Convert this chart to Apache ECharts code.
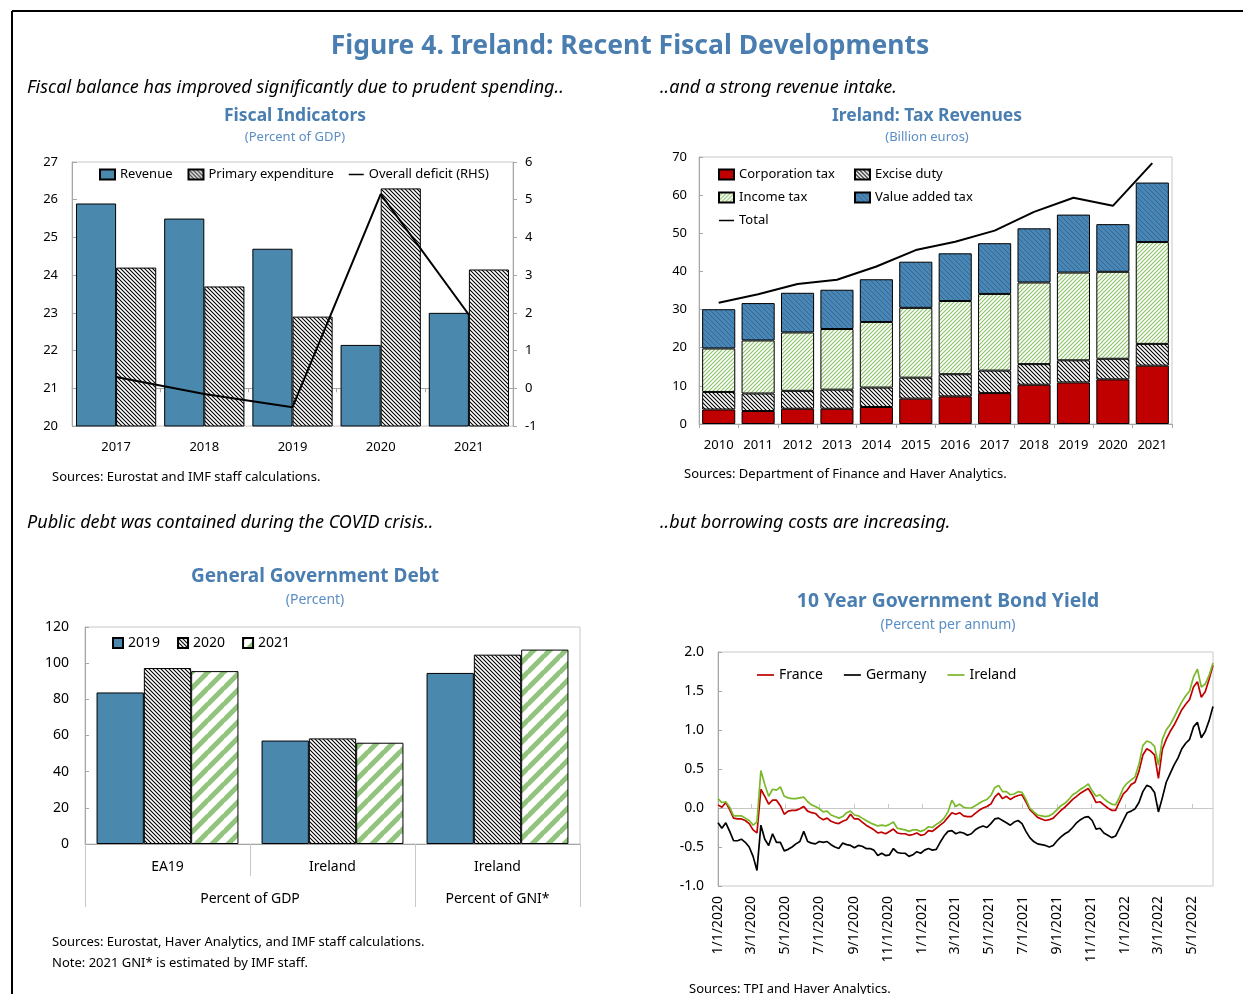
<!DOCTYPE html>
<html>
<head>
<meta charset="utf-8">
<title>Figure 4. Ireland: Recent Fiscal Developments</title>
<script src="https://cdn.jsdelivr.net/npm/echarts@6/dist/echarts.min.js"></script>
<style>
html, body { margin: 0; padding: 0; background: #fff; }
#chart { width: 1243px; height: 994px; }
</style>
</head>
<body>
<div id="chart"></div>
<script>
// ---- Fiscal indicators (percent of GDP) ----
const fiscalYears = ['2017', '2018', '2019', '2020', '2021'];
const revenue = [25.9, 25.5, 24.7, 22.15, 23.0];
const primaryExp = [24.2, 23.7, 22.9, 26.3, 24.15];
const overallDeficit = [0.3, -0.15, -0.5, 5.15, 1.95];

// ---- Tax revenues (billion euros) ----
const taxYears = ['2010', '2011', '2012', '2013', '2014', '2015', '2016', '2017', '2018', '2019', '2020', '2021'];
const corpTax = [3.8, 3.4, 4.0, 4.0, 4.45, 6.65, 7.25, 8.1, 10.3, 10.9, 11.7, 15.3];
const exciseDuty = [4.6, 4.6, 4.7, 5.0, 5.1, 5.5, 5.8, 5.9, 5.4, 5.8, 5.4, 5.7];
const incomeTax = [11.4, 13.9, 15.3, 15.9, 17.2, 18.3, 19.2, 20.1, 21.4, 23.0, 22.8, 26.7];
const vatTax = [10.3, 9.8, 10.4, 10.3, 11.2, 12.1, 12.5, 13.3, 14.2, 15.2, 12.5, 15.6];
const totalTax = [31.8, 34.0, 36.7, 37.8, 41.3, 45.6, 47.8, 50.7, 55.6, 59.3, 57.2, 68.4];

// ---- General government debt (percent) ----
const debtCats = ['EA19', 'Ireland', 'Ireland'];
const debtGroupLabels = ['Percent of GDP', 'Percent of GNI*'];
const debtGroupSizes = [2, 1];
const debt2019 = [83.8, 57.2, 94.6];
const debt2020 = [97.3, 58.4, 104.7];
const debt2021 = [95.6, 56.0, 107.5];

// ---- 10 year bond yields, weekly readings from 1/1/2020 ----
const bondStart = '2020-01-01';
const bondTickLabels = ['1/1/2020', '3/1/2020', '5/1/2020', '7/1/2020', '9/1/2020', '11/1/2020',
  '1/1/2021', '3/1/2021', '5/1/2021', '7/1/2021', '9/1/2021', '11/1/2021',
  '1/1/2022', '3/1/2022', '5/1/2022'];
const bondFrance = [
  0.04, 0.01, 0.07, -0.02, -0.13, -0.14, -0.14, -0.16, -0.20, -0.28, -0.32,
  0.24, 0.15, 0.05, 0.10, 0.10, 0.03, -0.08, -0.04, -0.03, -0.03,
  -0.01, 0.02, -0.04, -0.06, -0.07, -0.12, -0.15, -0.13, -0.17, -0.19,
  -0.20, -0.17, -0.15, -0.08, -0.14, -0.14, -0.18, -0.22, -0.25, -0.28, -0.32,
  -0.31, -0.33, -0.30, -0.27, -0.32, -0.33, -0.33, -0.35, -0.34, -0.32,
  -0.35, -0.34, -0.29, -0.30, -0.26, -0.22, -0.18, -0.12, -0.06, -0.08,
  -0.06, -0.10, -0.11, -0.11, -0.07, -0.03, 0.00, 0.02, 0.05, 0.14,
  0.19, 0.12, 0.15, 0.11, 0.14, 0.16, 0.17, 0.08, -0.02, -0.07,
  -0.12, -0.14, -0.16, -0.15, -0.13, -0.08, -0.03, 0.01, 0.06, 0.11,
  0.15, 0.19, 0.22, 0.25, 0.17, 0.07, 0.08, 0.04, 0.00, -0.03,
  -0.03, 0.08, 0.18, 0.23, 0.30, 0.33, 0.47, 0.68, 0.76, 0.73,
  0.68, 0.38, 0.75, 0.88, 0.98, 1.06, 1.16, 1.26, 1.33, 1.39,
  1.55, 1.62, 1.42, 1.49, 1.65, 1.83
];
const bondGermany = [
  -0.19, -0.26, -0.19, -0.30, -0.42, -0.42, -0.40, -0.44, -0.50, -0.62, -0.80,
  -0.22, -0.40, -0.48, -0.33, -0.44, -0.44, -0.55, -0.53, -0.50, -0.46,
  -0.43, -0.30, -0.43, -0.45, -0.46, -0.43, -0.44, -0.43, -0.47, -0.50,
  -0.52, -0.45, -0.47, -0.48, -0.51, -0.48, -0.49, -0.52, -0.52, -0.54, -0.61,
  -0.58, -0.61, -0.60, -0.52, -0.57, -0.58, -0.58, -0.62, -0.60, -0.56,
  -0.58, -0.54, -0.52, -0.54, -0.53, -0.44, -0.36, -0.30, -0.29, -0.33,
  -0.31, -0.32, -0.35, -0.33, -0.28, -0.25, -0.23, -0.25, -0.20, -0.14,
  -0.13, -0.16, -0.19, -0.22, -0.18, -0.16, -0.20, -0.30, -0.38, -0.43,
  -0.46, -0.47, -0.48, -0.50, -0.48, -0.42, -0.37, -0.33, -0.30, -0.25,
  -0.19, -0.15, -0.12, -0.11, -0.16, -0.27, -0.26, -0.32, -0.35, -0.38,
  -0.36, -0.26, -0.16, -0.06, -0.04, -0.01, 0.07, 0.21, 0.29, 0.27,
  0.20, -0.05, 0.13, 0.33, 0.44, 0.55, 0.64, 0.76, 0.83, 0.88,
  1.04, 1.10, 0.90, 0.98, 1.12, 1.30
];
const bondIreland = [
  0.12, 0.07, 0.08, 0.01, -0.10, -0.10, -0.10, -0.13, -0.16, -0.22, -0.18,
  0.48, 0.30, 0.15, 0.24, 0.23, 0.27, 0.15, 0.13, 0.12, 0.12,
  0.13, 0.14, 0.08, 0.04, 0.02, -0.01, -0.05, -0.04, -0.09, -0.11,
  -0.13, -0.11, -0.06, -0.04, -0.09, -0.10, -0.13, -0.16, -0.19, -0.21, -0.23,
  -0.22, -0.23, -0.21, -0.18, -0.26, -0.27, -0.28, -0.30, -0.28, -0.28,
  -0.30, -0.28, -0.24, -0.25, -0.21, -0.18, -0.13, -0.05, 0.10, 0.02,
  0.05, 0.01, 0.00, 0.00, 0.03, 0.06, 0.09, 0.11, 0.16, 0.26,
  0.29, 0.21, 0.21, 0.17, 0.18, 0.21, 0.20, 0.11, 0.00, -0.05,
  -0.09, -0.10, -0.11, -0.10, -0.07, -0.02, 0.03, 0.06, 0.11, 0.17,
  0.20, 0.24, 0.27, 0.31, 0.22, 0.15, 0.17, 0.12, 0.08, 0.05,
  0.04, 0.14, 0.26, 0.32, 0.36, 0.40, 0.56, 0.80, 0.86, 0.84,
  0.79, 0.55, 0.88, 1.00, 1.07, 1.16, 1.26, 1.36, 1.44, 1.50,
  1.68, 1.78, 1.55, 1.59, 1.70, 1.86
];

// ---- colours / fills ----
const FONT = '"Noto Sans", "Open Sans", sans-serif';
const TITLE_BLUE = '#4a7eb0';
const SUB_BLUE = '#5b8ec4';
const BAR_BLUE = '#4a88ad';
const AXIS_GREY = '#a6a6a6';
const BORDER_GREY = '#c8c8c8';
const LINE_ICON = 'path://M0,0L20,0L20,2L0,2Z';

// diagonal hatch tile, dir 'down' = "\\\\", 'up' = "////"
function hatch(size, bg, fg, lw, dir) {
  const c = document.createElement('canvas');
  c.width = size; c.height = size;
  const g = c.getContext('2d');
  g.fillStyle = bg;
  g.fillRect(0, 0, size, size);
  g.strokeStyle = fg;
  g.lineWidth = lw;
  g.beginPath();
  for (let k = -size; k <= size; k += size) {
    if (dir === 'down') {
      g.moveTo(-1, -1 + k); g.lineTo(size + 1, size + 1 + k);
    } else {
      g.moveTo(-1, size + 1 + k); g.lineTo(size + 1, -1 + k);
    }
  }
  g.stroke();
  return { image: c, repeat: 'repeat' };
}
const blackHatch = hatch(4, '#ffffff', '#000000', 1.1, 'down');
const greenThin = hatch(4, '#ffffff', '#8fc36c', 1.2, 'up');
const vatFill = hatch(5, '#4a86b4', '#33699a', 1, 'down');
const greenWide = hatch(16, '#ffffff', '#93c47d', 5, 'up');

// bond series: weekly points from bondStart, x in ms on a value axis
function parseMDY(s) {
  const p = s.split('/');
  return new Date(+p[2], +p[0] - 1, +p[1]).getTime();
}
const startParts = bondStart.split('-');
function weekTime(i) {
  return new Date(+startParts[0], +startParts[1] - 1, +startParts[2] + 7 * i).getTime();
}
const toPairs = arr => arr.map((v, i) => [weekTime(i), v]);
const bondTicks = bondTickLabels.map(parseMDY);
const bondMin = weekTime(0);
const bondMax = weekTime(bondFrance.length - 1);

// debt group boundaries / centres on a 0..n value axis
const debtBounds = [0];
const debtCentres = [];
debtGroupSizes.forEach(n => {
  const a = debtBounds[debtBounds.length - 1];
  debtCentres.push(a + n / 2);
  debtBounds.push(a + n);
});

// ---- text pieces drawn with graphic ----
function txt(text, x, y, font, fill, align) {
  return {
    type: 'text', x: x, y: y, silent: true,
    style: {
      text: text, font: font, fill: fill || '#000',
      align: align || 'left', textAlign: align || 'left',
      verticalAlign: 'middle', textVerticalAlign: 'middle'
    }
  };
}
const graphics = [
  { type: 'line', shape: { x1: 12, y1: 11, x2: 1243, y2: 11 }, style: { stroke: '#000', lineWidth: 2 } },
  { type: 'line', shape: { x1: 12, y1: 11, x2: 12, y2: 994 }, style: { stroke: '#000', lineWidth: 2 } },
  txt('Figure 4. Ireland: Recent Fiscal Developments', 630, 46, 'bold 26.5px ' + FONT, TITLE_BLUE, 'center'),
  txt('Fiscal balance has improved significantly due to prudent spending..', 27, 88, 'italic 18px ' + FONT),
  txt('..and a strong revenue intake.', 660, 88, 'italic 18px ' + FONT),
  txt('Public debt was contained during the COVID crisis..', 27, 523, 'italic 18px ' + FONT),
  txt('..but borrowing costs are increasing.', 660, 523, 'italic 18px ' + FONT),
  txt('Fiscal Indicators', 295, 116, 'bold 17.5px ' + FONT, TITLE_BLUE, 'center'),
  txt('(Percent of GDP)', 295, 137, '13px ' + FONT, SUB_BLUE, 'center'),
  txt('Ireland: Tax Revenues', 927, 116, 'bold 17.5px ' + FONT, TITLE_BLUE, 'center'),
  txt('(Billion euros)', 927, 137, '13px ' + FONT, SUB_BLUE, 'center'),
  txt('General Government Debt', 315, 577, 'bold 19px ' + FONT, TITLE_BLUE, 'center'),
  txt('(Percent)', 315, 600, '14px ' + FONT, SUB_BLUE, 'center'),
  txt('10 Year Government Bond Yield', 948, 602, 'bold 19.3px ' + FONT, TITLE_BLUE, 'center'),
  txt('(Percent per annum)', 948, 625, '14px ' + FONT, SUB_BLUE, 'center'),
  txt('Sources: Eurostat and IMF staff calculations.', 52, 477, '13px ' + FONT),
  txt('Sources: Department of Finance and Haver Analytics.', 684, 474, '13px ' + FONT),
  txt('Sources: Eurostat, Haver Analytics, and IMF staff calculations.', 52, 942, '13px ' + FONT),
  txt('Note: 2021 GNI* is estimated by IMF staff.', 52, 963, '13px ' + FONT),
  txt('Sources: TPI and Haver Analytics.', 689, 989, '13px ' + FONT)
];

// ---- shared axis styles ----
const axisLine = { show: true, lineStyle: { color: AXIS_GREY, width: 1 } };
const label = (size, margin) => ({ color: '#000', fontSize: size, fontFamily: FONT, margin: margin, showMinLabel: true, showMaxLabel: true });
const gridBase = { show: true, borderColor: BORDER_GREY, borderWidth: 1, backgroundColor: 'transparent', containLabel: false, outerBoundsMode: 'none' };

const option = {
  animation: false,
  backgroundColor: '#fff',
  textStyle: { fontFamily: FONT, color: '#000' },
  graphic: graphics,
  grid: [
    Object.assign({ left: 72, top: 162, width: 441, height: 264 }, gridBase),
    Object.assign({ left: 699, top: 157, width: 473, height: 267 }, gridBase),
    Object.assign({ left: 85, top: 627, width: 495, height: 217 }, gridBase),
    Object.assign({ left: 718, top: 652, width: 495, height: 234 }, gridBase)
  ],
  legend: [
    {
      data: [{ name: 'Revenue', icon: 'rect' }, { name: 'Primary expenditure', icon: 'rect' }, { name: 'Overall deficit (RHS)', icon: LINE_ICON }],
      left: 99, top: 168, padding: 0, itemWidth: 15, itemHeight: 10, itemGap: 15, selectedMode: false,
      textStyle: { fontSize: 13, color: '#000' }
    },
    {
      data: [{ name: 'Corporation tax', icon: 'rect' }, { name: 'Income tax', icon: 'rect' }, { name: 'Total', icon: LINE_ICON }],
      orient: 'vertical', left: 718, top: 168, padding: 0, itemWidth: 15, itemHeight: 10, itemGap: 10, selectedMode: false,
      textStyle: { fontSize: 13, color: '#000' }
    },
    {
      data: [{ name: 'Excise duty', icon: 'rect' }, { name: 'Value added tax', icon: 'rect' }],
      orient: 'vertical', left: 854, top: 168, padding: 0, itemWidth: 15, itemHeight: 10, itemGap: 10, selectedMode: false,
      textStyle: { fontSize: 13, color: '#000' }
    },
    {
      data: [{ name: '2019', icon: 'rect' }, { name: '2020', icon: 'rect' }, { name: '2021', icon: 'rect' }],
      left: 112, top: 636, padding: 0, itemWidth: 10, itemHeight: 10, itemGap: 17, selectedMode: false,
      textStyle: { fontSize: 14, color: '#000' }
    },
    {
      data: [{ name: 'France', icon: LINE_ICON }, { name: 'Germany', icon: LINE_ICON }, { name: 'Ireland', icon: LINE_ICON }],
      left: 757, top: 668, padding: 0, itemWidth: 17, itemHeight: 10, itemGap: 21, selectedMode: false,
      textStyle: { fontSize: 14, color: '#000' }
    }
  ],
  xAxis: [
    {
      type: 'category', gridIndex: 0, data: fiscalYears,
      axisLine: axisLine, axisTick: { show: true, length: 4, lineStyle: { color: AXIS_GREY } },
      axisLabel: label(13, 15), splitLine: { show: false }
    },
    {
      type: 'category', gridIndex: 1, data: taxYears,
      axisLine: axisLine, axisTick: { show: true, length: 4, lineStyle: { color: AXIS_GREY } },
      axisLabel: Object.assign(label(13, 15), { interval: 0 }), splitLine: { show: false }
    },
    {
      type: 'category', gridIndex: 2, data: debtCats,
      axisLine: axisLine, axisTick: { show: true, length: 32, lineStyle: { color: BORDER_GREY } },
      axisLabel: Object.assign(label(14, 16), { interval: 0 }), splitLine: { show: false }
    },
    {
      type: 'value', gridIndex: 2, position: 'bottom', min: 0, max: debtBounds[debtBounds.length - 1],
      axisLine: { show: false, onZero: false },
      axisTick: { show: true, length: 63, customValues: debtBounds, lineStyle: { color: BORDER_GREY } },
      axisLabel: Object.assign(label(14, 48), {
        customValues: debtCentres,
        formatter: v => debtGroupLabels[debtCentres.indexOf(v)] || ''
      }),
      splitLine: { show: false }
    },
    {
      type: 'value', gridIndex: 3, position: 'bottom', min: bondMin, max: bondMax,
      axisLine: { show: false, onZero: false }, axisTick: { show: false },
      axisLabel: Object.assign(label(14, 10), {
        rotate: 90, customValues: bondTicks, hideOverlap: false,
        formatter: v => bondTickLabels[bondTicks.indexOf(v)] || ''
      }),
      splitLine: { show: false }
    },
    {
      type: 'value', gridIndex: 3, position: 'bottom', min: bondMin, max: bondMax,
      axisLine: { show: true, onZero: true, lineStyle: { color: BORDER_GREY } },
      axisTick: { show: true, inside: true, length: 4, customValues: bondTicks, lineStyle: { color: BORDER_GREY } },
      axisLabel: { show: false }, splitLine: { show: false }
    }
  ],
  yAxis: [
    {
      type: 'value', gridIndex: 0, min: 20, max: 27, interval: 1,
      axisLine: axisLine, axisTick: { show: true, inside: true, length: 5, lineStyle: { color: AXIS_GREY } },
      axisLabel: label(13, 14), splitLine: { show: false }
    },
    {
      type: 'value', gridIndex: 0, position: 'right', min: -1, max: 6, interval: 1,
      axisLine: axisLine, axisTick: { show: true, length: 4, lineStyle: { color: AXIS_GREY } },
      axisLabel: label(13, 12), splitLine: { show: false }
    },
    {
      type: 'value', gridIndex: 1, min: 0, max: 70, interval: 10,
      axisLine: axisLine, axisTick: { show: true, inside: true, length: 4, lineStyle: { color: AXIS_GREY } },
      axisLabel: label(13, 12), splitLine: { show: false }
    },
    {
      type: 'value', gridIndex: 2, min: 0, max: 120, interval: 20,
      axisLine: axisLine, axisTick: { show: true, inside: true, length: 4, lineStyle: { color: AXIS_GREY } },
      axisLabel: label(14, 16), splitLine: { show: false }
    },
    {
      type: 'value', gridIndex: 3, min: -1, max: 2, interval: 0.5,
      axisLine: axisLine, axisTick: { show: true, inside: true, length: 4, lineStyle: { color: AXIS_GREY } },
      axisLabel: Object.assign(label(14, 14), { formatter: v => v.toFixed(1) }), splitLine: { show: false }
    }
  ],
  series: [
    // fiscal indicators
    {
      name: 'Revenue', type: 'bar', xAxisIndex: 0, yAxisIndex: 0, data: revenue,
      barGap: '0%', barCategoryGap: '9%',
      itemStyle: { color: BAR_BLUE, borderColor: '#000', borderWidth: 1 }
    },
    {
      name: 'Primary expenditure', type: 'bar', xAxisIndex: 0, yAxisIndex: 0, data: primaryExp,
      itemStyle: { color: blackHatch, borderColor: '#000', borderWidth: 1 }
    },
    {
      name: 'Overall deficit (RHS)', type: 'line', xAxisIndex: 0, yAxisIndex: 1, data: overallDeficit,
      symbol: 'none', lineStyle: { color: '#000', width: 2 }, itemStyle: { color: '#000' }, z: 5
    },
    // tax revenues
    {
      name: 'Corporation tax', type: 'bar', stack: 'tax', xAxisIndex: 1, yAxisIndex: 2, data: corpTax,
      barCategoryGap: '16%', itemStyle: { color: '#c00000', borderColor: '#000', borderWidth: 1 }
    },
    {
      name: 'Excise duty', type: 'bar', stack: 'tax', xAxisIndex: 1, yAxisIndex: 2, data: exciseDuty,
      itemStyle: { color: blackHatch, borderColor: '#000', borderWidth: 1 }
    },
    {
      name: 'Income tax', type: 'bar', stack: 'tax', xAxisIndex: 1, yAxisIndex: 2, data: incomeTax,
      itemStyle: { color: greenThin, borderColor: '#000', borderWidth: 1 }
    },
    {
      name: 'Value added tax', type: 'bar', stack: 'tax', xAxisIndex: 1, yAxisIndex: 2, data: vatTax,
      itemStyle: { color: vatFill, borderColor: '#000', borderWidth: 1 }
    },
    {
      name: 'Total', type: 'line', xAxisIndex: 1, yAxisIndex: 2, data: totalTax,
      symbol: 'none', lineStyle: { color: '#000', width: 2 }, itemStyle: { color: '#000' }, z: 5
    },
    // debt
    {
      name: '2019', type: 'bar', xAxisIndex: 2, yAxisIndex: 3, data: debt2019,
      barGap: '0%', barCategoryGap: '14%',
      itemStyle: { color: BAR_BLUE, borderColor: '#000', borderWidth: 1 }
    },
    {
      name: '2020', type: 'bar', xAxisIndex: 2, yAxisIndex: 3, data: debt2020,
      itemStyle: { color: blackHatch, borderColor: '#000', borderWidth: 1 }
    },
    {
      name: '2021', type: 'bar', xAxisIndex: 2, yAxisIndex: 3, data: debt2021,
      itemStyle: { color: greenWide, borderColor: '#000', borderWidth: 1 }
    },
    // bond yields
    {
      name: 'France', type: 'line', xAxisIndex: 4, yAxisIndex: 4, data: toPairs(bondFrance),
      symbol: 'none', lineStyle: { color: '#c00000', width: 1.7 }, itemStyle: { color: '#c00000' }
    },
    {
      name: 'Germany', type: 'line', xAxisIndex: 4, yAxisIndex: 4, data: toPairs(bondGermany),
      symbol: 'none', lineStyle: { color: '#000', width: 1.7 }, itemStyle: { color: '#000' }
    },
    {
      name: 'Ireland', type: 'line', xAxisIndex: 4, yAxisIndex: 4, data: toPairs(bondIreland),
      symbol: 'none', lineStyle: { color: '#7ab929', width: 1.7 }, itemStyle: { color: '#7ab929' }
    }
  ]
};

const chart = echarts.init(document.getElementById('chart'));
chart.setOption(option);
window.addEventListener('resize', () => chart.resize());
</script>
</body>
</html>
